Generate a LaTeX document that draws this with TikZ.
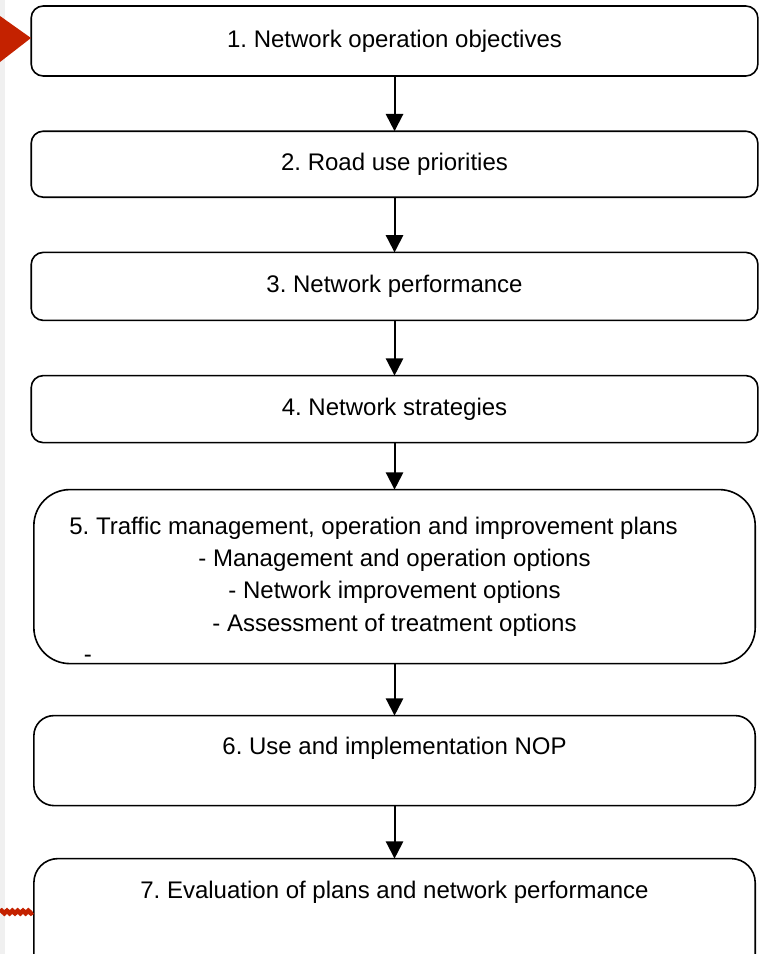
\documentclass[tikz,border=0pt]{standalone}
\usepackage{fontspec}
\setmainfont{Liberation Sans}
\usepackage{tikz}
\usetikzlibrary{arrows.meta, positioning, decorations.pathmorphing}
\definecolor{scrawl}{HTML}{C42200}
\frenchspacing
\tikzset{
    stage/.style={rectangle, draw, line width=1.2pt, outer sep=0pt, rounded corners=9pt, minimum width=545pt, minimum height=51pt, font=\fontsize{18}{24.2}\selectfont, align=center},
    bigstage/.style={stage, minimum width=541pt, rounded corners=27pt},
    caption/.style={font=\fontsize{18}{24.2}\selectfont, inner sep=0pt},
    arrow/.style={-{Triangle[length=13pt, width=13pt]}, line width=1.5pt},
}

\begin{document}
\begin{tikzpicture}[node distance=41.4pt]
    \useasboundingbox (0,0) rectangle (576pt,-715.5pt);
    \fill[gray!12] (0,0) rectangle (3.75pt,-715.5pt);

    % Stages 1-4
    \node[stage, minimum height=52.5pt] (objectives) at (295.9pt,-30.75pt) {1. Network operation objectives};
    \node[stage, below=of objectives, minimum height=49.5pt] (priorities) {2. Road use priorities};
    \node[stage, below=of priorities] (performance) {3. Network performance};
    \node[stage, below=of performance, minimum height=50.25pt] (strategies) {4. Network strategies};

    % Stage 5
    \node[bigstage, below=35.25pt of strategies, minimum height=130.5pt] (plans) {5. Traffic management, operation and improvement plans\hspace*{31.5pt}\\- Management and operation options\\- Network improvement options\\- Assessment of treatment options};
    \node[caption, xshift=40.5pt, yshift=3.75pt] (dash) at (plans.south west) {-};

    % Stage 6
    \node[bigstage, below=39pt of plans, minimum height=67.5pt, rounded corners=15pt] (nop) {};
    \node[caption, yshift=-24.75pt] (noptext) at (nop.north) {6. Use and implementation NOP};

    % Stage 7
    \node[bigstage, below=39.75pt of nop, minimum height=90pt, rounded corners=18pt] (evaluation) {};
    \node[caption, yshift=-25.5pt] (evaltext) at (evaluation.north) {7. Evaluation of plans and network performance};

    % Arrows
    \draw[arrow] (objectives) -- (priorities);
    \draw[arrow] (priorities) -- (performance);
    \draw[arrow] (performance) -- (strategies);
    \draw[arrow] (strategies) -- (plans);
    \draw[arrow] (plans) -- (nop);
    \draw[arrow] (nop) -- (evaluation);

    % red marks at the left edge
    \fill[scrawl] (0,-12pt) -- (23.25pt,-28.5pt) -- (0,-46.5pt) -- cycle;
    \draw[scrawl, line width=3.5pt, decorate, decoration={snake, amplitude=0.9pt, segment length=4pt}] (0,-684pt) -- (24.5pt,-684pt);
\end{tikzpicture}
\end{document}
